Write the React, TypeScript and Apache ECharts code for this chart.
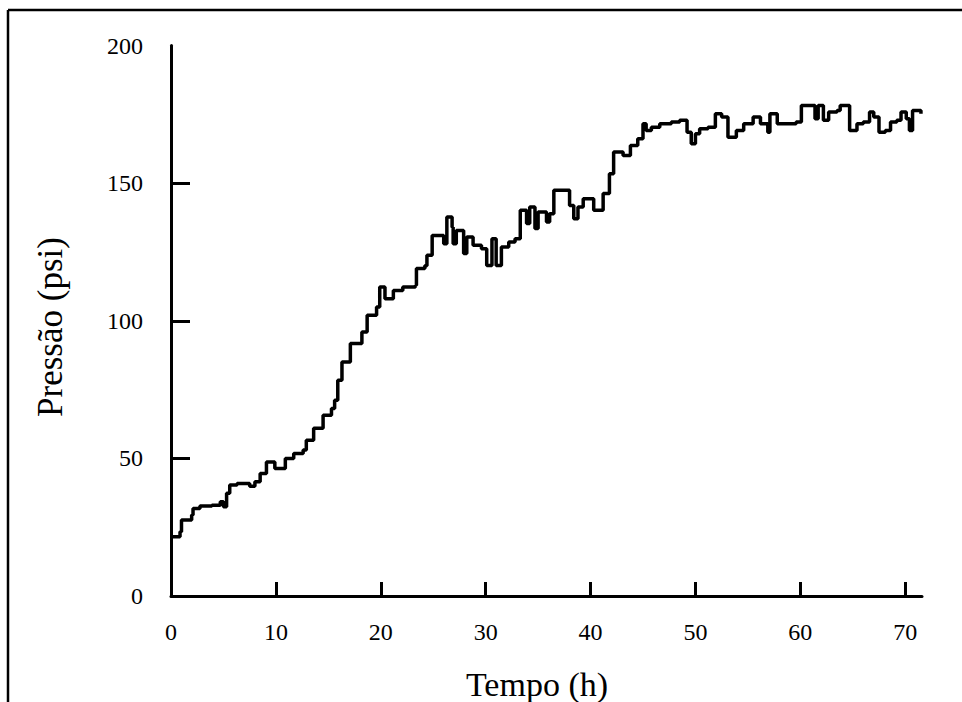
import React, { useEffect, useRef } from "react";
import * as echarts from "echarts";

const timeHours: number[] = [
  0, 0.86, 1.0, 1.97, 2.1, 2.76, 3.9, 4.7, 5.0, 5.3,
  5.6, 6.3, 7.5, 8.0, 8.5, 9.1, 9.9, 10.9, 11.7, 12.6,
  12.9, 13.6, 14.5, 15.3, 15.6, 15.9, 16.3, 17.1, 18.2, 18.7,
  19.6, 19.9, 20.4, 21.2, 22.1, 23.3, 23.4, 24.2, 24.4, 24.9,
  25.6, 26.0, 26.3, 26.8, 26.9, 27.2, 27.9, 28.2, 28.8, 29.6,
  30.1, 30.6, 31.0, 31.5, 32.2, 32.8, 33.3, 33.9, 34.2, 34.7,
  35.0, 35.8, 36.1, 36.5, 37.7, 38.0, 38.4, 38.8, 39.3, 40.1,
  40.3, 40.9, 41.2, 41.8, 42.2, 43.1, 43.8, 44.5, 45.0, 45.3,
  45.8, 46.6, 47.7, 48.5, 49.2, 49.6, 50.0, 50.4, 51.2, 51.9,
  52.5, 53.1, 53.9, 54.6, 55.5, 56.2, 56.9, 57.1, 57.8, 59.0,
  59.6, 60.1, 60.9, 61.4, 61.7, 62.2, 62.7, 63.5, 63.8, 64.6,
  64.7, 65.4, 66.0, 66.6, 67.0, 67.5, 68.1, 68.6, 69.2, 69.6,
  70.1, 70.4, 70.7, 71.5,
];

const pressurePsi: number[] = [
  21.5, 23.3, 27.6, 29.4, 31.8, 32.7, 33, 34.2, 32.4, 37.3,
  40.3, 40.9, 39.9, 41.5, 44.5, 48.7, 46.3, 50, 51.8, 53,
  56.6, 60.9, 65.7, 68.1, 71.1, 78.4, 85, 91.7, 95.9, 102,
  105, 112.3, 108, 111, 112.3, 112.9, 119, 120, 123.8, 131,
  131, 128, 137.7, 134, 128, 132.8, 124.4, 130.4, 127.4, 126.2,
  120.1, 129.8, 120.1, 126.8, 128.6, 129.8, 140.1, 135.3, 141.3, 133.5,
  139.5, 135.9, 138.9, 147.4, 147.4, 141.9, 137.1, 141.3, 144.3, 144.3,
  140.1, 140.1, 146.2, 153.4, 161.3, 160, 163.7, 166.1, 171.6, 169.1,
  170.3, 171.6, 172.2, 172.8, 168.5, 164.3, 167.9, 169.8, 170.3, 175.2,
  174, 166.7, 169.1, 171.6, 174, 171.6, 168.5, 175.2, 171.6, 171.6,
  172.2, 178.2, 178.2, 173.4, 178.2, 172.8, 175.8, 176.4, 178.2, 178.2,
  169.1, 171.6, 172.2, 175.8, 174, 168.5, 169.1, 172.2, 172.8, 175.8,
  173.4, 169.1, 176.4, 175.2,
];

const xTickValues: number[] = [0, 10, 20, 30, 40, 50, 60, 70];
const yTickValues: number[] = [0, 50, 100, 150, 200];
const yTickMarks: number[] = [0, 50, 100, 150];

const xTitle = "Tempo (h)";
const yTitle = "Pressão (psi)";

const FONT = "'Liberation Serif', 'Times New Roman', serif";

export default function App() {
  const ref = useRef<HTMLDivElement>(null);

  useEffect(() => {
    if (!ref.current) return;
    const chart = echarts.init(ref.current, undefined, { renderer: "svg" });
    const data = timeHours.map((t, i) => [t, pressurePsi[i]]);

    chart.setOption({
      animation: false,
      backgroundColor: "#ffffff",
      grid: { left: 171, right: 40, top: 45.5, bottom: 106, containLabel: false },
      xAxis: {
        type: "value",
        min: 0,
        max: 71.6,
        interval: 10,
        splitLine: { show: false },
        axisLine: { show: true, lineStyle: { color: "#000", width: 3 } },
        axisTick: {
          show: true,
          inside: true,
          length: 14,
          customValues: xTickValues,
          lineStyle: { color: "#000", width: 3 },
        },
        axisLabel: {
          customValues: xTickValues,
          color: "#000",
          fontFamily: FONT,
          fontSize: 24,
          margin: 24,
        },
      },
      yAxis: {
        type: "value",
        min: 0,
        max: 200,
        interval: 50,
        splitLine: { show: false },
        axisLine: { show: true, lineStyle: { color: "#000", width: 3 } },
        axisTick: {
          show: true,
          inside: true,
          length: 19,
          customValues: yTickMarks,
          lineStyle: { color: "#000", width: 3 },
        },
        axisLabel: {
          customValues: yTickValues,
          color: "#000",
          fontFamily: FONT,
          fontSize: 24,
          margin: 28,
          padding: [6, 0, 0, 0],
        },
      },
      series: [
        {
          type: "line",
          data,
          step: "end",
          showSymbol: false,
          symbol: "none",
          lineStyle: { color: "#000", width: 3.5 },
        },
      ],
      graphic: [
        {
          type: "line",
          shape: { x1: 8, y1: 10, x2: 962, y2: 10 },
          style: { stroke: "#000", lineWidth: 2.5 },
        },
        {
          type: "line",
          shape: { x1: 8, y1: 10, x2: 8, y2: 702 },
          style: { stroke: "#000", lineWidth: 2.5 },
        },
        {
          type: "text",
          x: 537,
          y: 701,
          style: {
            text: xTitle,
            font: `34px ${FONT}`,
            fill: "#000",
            align: "center",
            verticalAlign: "bottom",
          },
        },
        {
          type: "text",
          x: 50,
          y: 327,
          rotation: Math.PI / 2,
          style: {
            text: yTitle,
            font: `35px ${FONT}`,
            fill: "#000",
            align: "center",
            verticalAlign: "middle",
          },
        },
      ],
    });

    return () => chart.dispose();
  }, []);

  return (
    <div
      ref={ref}
      style={{ position: "fixed", left: 0, top: 0, width: 962, height: 702 }}
    />
  );
}
